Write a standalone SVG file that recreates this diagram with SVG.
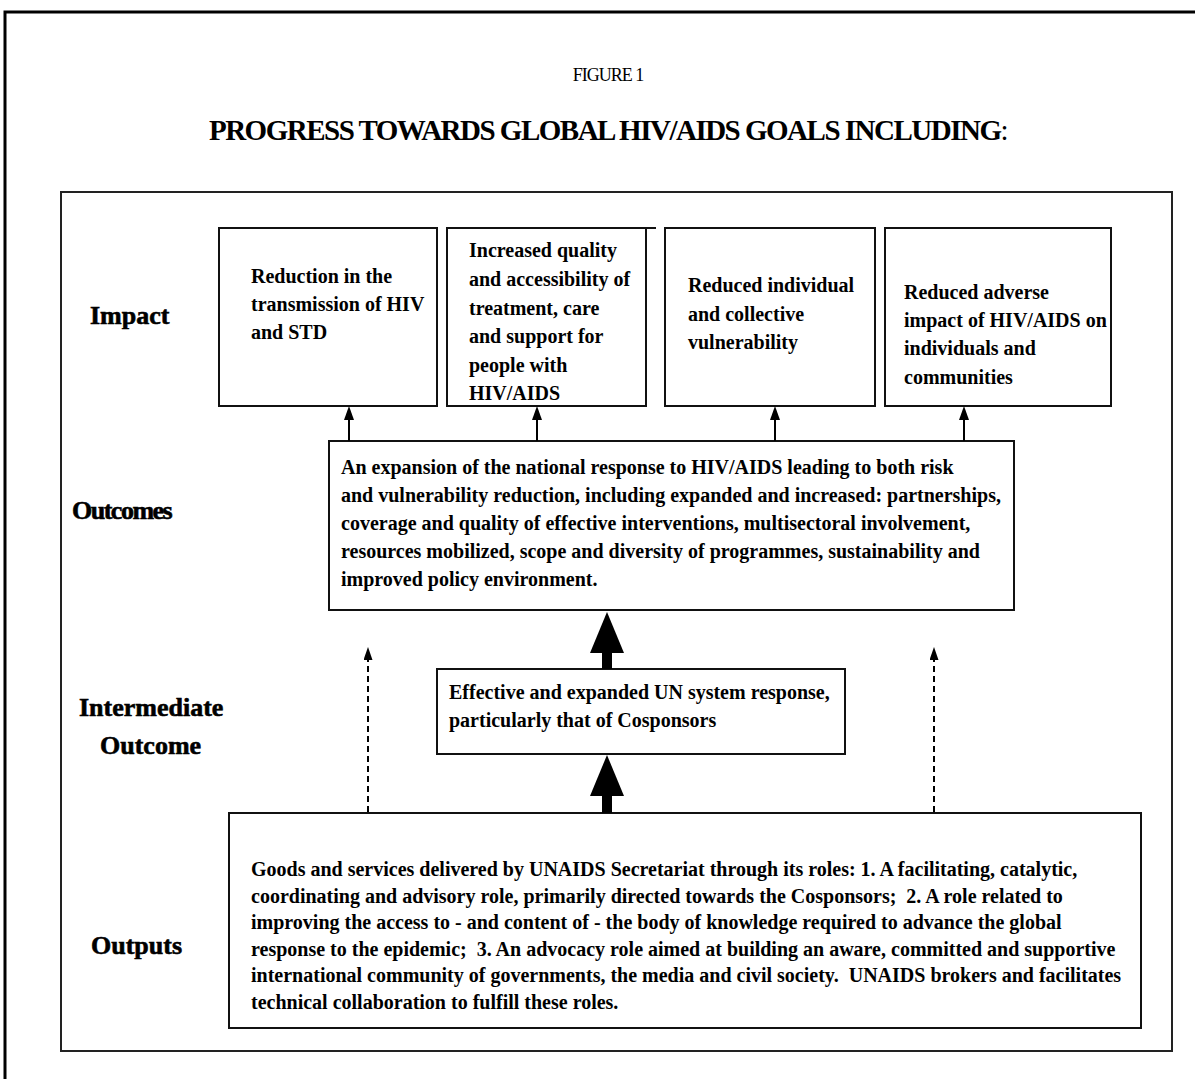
<svg xmlns="http://www.w3.org/2000/svg" width="1195" height="1079" viewBox="0 0 1195 1079">
<style>
text{font-family:"Liberation Serif","Times New Roman",serif;fill:#000;white-space:pre}
.t{font-size:20px;font-weight:bold}
.lbl{font-size:26px;font-weight:bold;stroke:#000;stroke-width:0.6}
.box{fill:#fff;stroke:#111;stroke-width:2}
.ar{stroke:#000;stroke-width:2;fill:none}
.dash{stroke:#000;stroke-width:2;stroke-dasharray:6 4;fill:none}
.thick{stroke:#000;stroke-width:10;fill:none}
</style>
<defs>
<marker id="ah" markerUnits="userSpaceOnUse" markerWidth="14" markerHeight="10" refX="0" refY="5" orient="auto"><path d="M0,0 L14,5 L0,10 z" fill="#000"/></marker>
<marker id="ahd" markerUnits="userSpaceOnUse" markerWidth="13" markerHeight="9" refX="0" refY="4.5" orient="auto"><path d="M0,0 L13,4.5 L0,9 z" fill="#000"/></marker>
<marker id="big" markerUnits="userSpaceOnUse" markerWidth="41" markerHeight="34" refX="0" refY="17" orient="auto"><path d="M0,0 L41,17 L0,34 z" fill="#000"/></marker>
</defs>
<rect width="1195" height="1079" fill="#fff"/>
<path d="M5,1079 V12 H1195" fill="none" stroke="#000" stroke-width="3"/>
<g id="heading">
<text x="608" y="81" text-anchor="middle" font-size="18" letter-spacing="-1">FIGURE 1</text>
<text x="608" y="140" text-anchor="middle" font-size="29" letter-spacing="-1.5"><tspan font-weight="bold">PROGRESS TOWARDS GLOBAL HIV/AIDS GOALS INCLUDING</tspan><tspan>:</tspan></text>
</g>
<g id="frame"><rect x="61" y="192" width="1111" height="859" fill="none" stroke="#222" stroke-width="2"/></g>
<g id="labels">
<text class="lbl" x="90" y="324">Impact</text>
<text class="lbl" x="72" y="519" letter-spacing="-1.5">Outcomes</text>
<text class="lbl" x="79" y="716">Intermediate</text>
<text class="lbl" x="100" y="754">Outcome</text>
<text class="lbl" x="91" y="954">Outputs</text>
</g>
<g id="impact1">
<rect class="box" x="219" y="228" width="218" height="178"/>
<text class="t" x="251" y="283">Reduction in the</text>
<text class="t" x="251" y="311">transmission of HIV</text>
<text class="t" x="251" y="339">and STD</text>
</g>
<g id="impact2">
<rect class="box" x="447" y="228" width="199" height="178"/>
<line x1="646" y1="228" x2="656" y2="228" stroke="#111" stroke-width="2"/>
<text class="t" x="469" y="257">Increased quality</text>
<text class="t" x="469" y="286">and accessibility of</text>
<text class="t" x="469" y="315">treatment, care</text>
<text class="t" x="469" y="343">and support for</text>
<text class="t" x="469" y="372">people with</text>
<text class="t" x="469" y="400">HIV/AIDS</text>
</g>
<g id="impact3">
<rect class="box" x="665" y="228" width="210" height="178"/>
<text class="t" x="688" y="292">Reduced individual</text>
<text class="t" x="688" y="321">and collective</text>
<text class="t" x="688" y="349">vulnerability</text>
</g>
<g id="impact4">
<rect class="box" x="885" y="228" width="226" height="178"/>
<text class="t" x="904" y="299">Reduced adverse</text>
<text class="t" x="904" y="327">impact of HIV/AIDS on</text>
<text class="t" x="904" y="355">individuals and</text>
<text class="t" x="904" y="384">communities</text>
</g>
<g id="outcomes">
<rect class="box" x="329" y="441" width="685" height="169"/>
<text class="t" x="341" y="474">An expansion of the national response to HIV/AIDS leading to both risk</text>
<text class="t" x="341" y="502">and vulnerability reduction, including expanded and increased: partnerships,</text>
<text class="t" x="341" y="530">coverage and quality of effective interventions, multisectoral involvement,</text>
<text class="t" x="341" y="558">resources mobilized, scope and diversity of programmes, sustainability and</text>
<text class="t" x="341" y="586">improved policy environment.</text>
</g>
<g id="intermediate">
<rect class="box" x="437" y="669" width="408" height="85"/>
<text class="t" x="449" y="699">Effective and expanded UN system response,</text>
<text class="t" x="449" y="727">particularly that of Cosponsors</text>
</g>
<g id="outputs">
<rect class="box" x="229" y="813" width="912" height="215"/>
<text class="t" x="251" y="876">Goods and services delivered by UNAIDS Secretariat through its roles: 1. A facilitating, catalytic,</text>
<text class="t" x="251" y="903">coordinating and advisory role, primarily directed towards the Cosponsors;  2. A role related to</text>
<text class="t" x="251" y="929">improving the access to - and content of - the body of knowledge required to advance the global</text>
<text class="t" x="251" y="956">response to the epidemic;  3. An advocacy role aimed at building an aware, committed and supportive</text>
<text class="t" x="251" y="982">international community of governments, the media and civil society.  UNAIDS brokers and facilitates</text>
<text class="t" x="251" y="1009">technical collaboration to fulfill these roles.</text>
</g>
<g id="connectors">
<line class="ar" x1="349" y1="441" x2="349" y2="420" marker-end="url(#ah)"/>
<line class="ar" x1="537" y1="441" x2="537" y2="420" marker-end="url(#ah)"/>
<line class="ar" x1="775" y1="441" x2="775" y2="420" marker-end="url(#ah)"/>
<line class="ar" x1="964" y1="441" x2="964" y2="420" marker-end="url(#ah)"/>
<line class="thick" x1="607" y1="669" x2="607" y2="653" marker-end="url(#big)"/>
<line class="thick" x1="607" y1="813" x2="607" y2="796" marker-end="url(#big)"/>
<line class="dash" x1="368" y1="812" x2="368" y2="660" marker-end="url(#ahd)"/>
<line class="dash" x1="934" y1="812" x2="934" y2="660" marker-end="url(#ahd)"/>
</g>
</svg>
